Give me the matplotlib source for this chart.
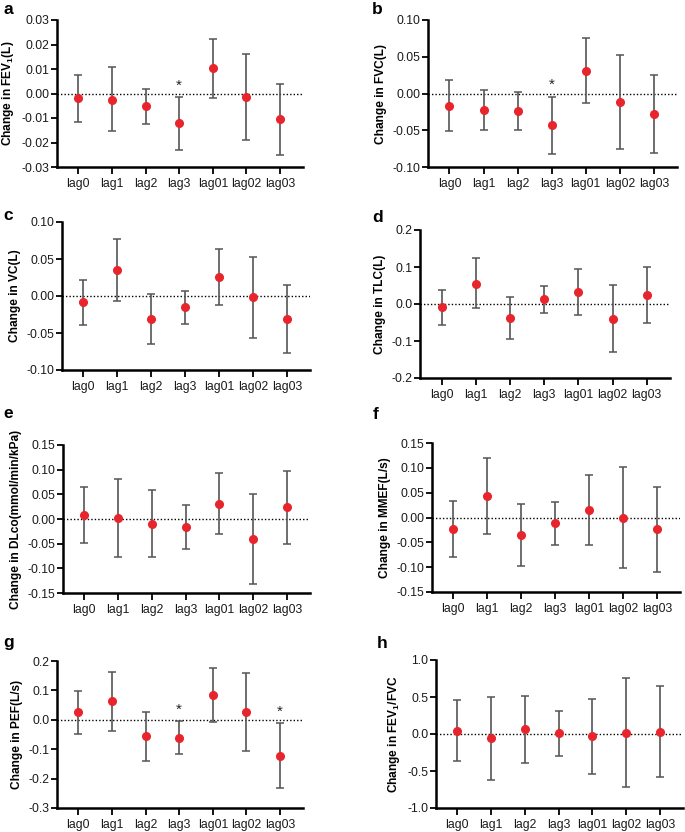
import matplotlib
matplotlib.use("Agg")
import matplotlib.pyplot as plt
import numpy as np

plt.rcParams['font.family'] = ['Liberation Sans', 'DejaVu Sans']
plt.rcParams['mathtext.fontset'] = 'custom'
plt.rcParams['mathtext.bf'] = 'Liberation Sans:bold'
plt.rcParams['mathtext.rm'] = 'Liberation Sans'
plt.rcParams['mathtext.default'] = 'bf'

categories = ["lag0", "lag1", "lag2", "lag3", "lag01", "lag02", "lag03"]

fev1_est = [-0.0020, -0.0025, -0.0053, -0.0121, 0.0104, -0.0015, -0.0106]
fev1_lo = [-0.0117, -0.0155, -0.0125, -0.0229, -0.0018, -0.0191, -0.0250]
fev1_hi = [0.0075, 0.0108, 0.0019, -0.0014, 0.0224, 0.0161, 0.0038]

fvc_est = [-0.0164, -0.0224, -0.0237, -0.0434, 0.0310, -0.0114, -0.0279]
fvc_lo = [-0.0516, -0.0498, -0.0498, -0.0822, -0.0128, -0.0753, -0.0813]
fvc_hi = [0.0187, 0.0050, 0.0027, -0.0041, 0.0749, 0.0525, 0.0247]

vc_est = [-0.0081, 0.0353, -0.0308, -0.0154, 0.0253, -0.0018, -0.0308]
vc_lo = [-0.0389, -0.0063, -0.0652, -0.0380, -0.0122, -0.0566, -0.0765]
vc_hi = [0.0222, 0.0765, 0.0027, 0.0072, 0.0633, 0.0529, 0.0145]

tlc_est = [-0.0081, 0.0550, -0.0370, 0.0126, 0.0316, -0.0397, 0.0244]
tlc_lo = [-0.0578, -0.0117, -0.0939, -0.0253, -0.0298, -0.1309, -0.0506]
tlc_hi = [0.0390, 0.1237, 0.0199, 0.0497, 0.0939, 0.0515, 0.0993]

dlco_est = [0.0088, 0.0014, -0.0095, -0.0163, 0.0312, -0.0407, 0.0237]
dlco_lo = [-0.0495, -0.0779, -0.0772, -0.0603, -0.0312, -0.1314, -0.0515]
dlco_hi = [0.0657, 0.0820, 0.0583, 0.0278, 0.0935, 0.0501, 0.0982]

mmef_est = [-0.0236, 0.0431, -0.0344, -0.0115, 0.0155, 0.0000, -0.0236]
mmef_lo = [-0.0795, -0.0337, -0.0977, -0.0546, -0.0553, -0.1024, -0.1092]
mmef_hi = [0.0337, 0.1200, 0.0276, 0.0310, 0.0863, 0.1018, 0.0607]

pef_est = [0.0249, 0.0645, -0.0566, -0.0611, 0.0837, 0.0270, -0.1220]
pef_lo = [-0.0486, -0.0373, -0.1390, -0.1165, -0.0079, -0.1063, -0.2320]
pef_hi = [0.0984, 0.1640, 0.0260, -0.0034, 0.1750, 0.1595, -0.0124]

ratio_est = [0.045, -0.059, 0.063, 0.014, -0.032, 0.018, 0.027]
ratio_lo = [-0.366, -0.615, -0.394, -0.294, -0.538, -0.719, -0.584]
ratio_hi = [0.457, 0.502, 0.520, 0.317, 0.475, 0.751, 0.647]

panels = [
    dict(letter="a", ylabel=r"Change in FEV$_1$(L)", est=fev1_est, lo=fev1_lo, hi=fev1_hi,
         ylim=(-0.03, 0.03), ticks=[-0.03, -0.02, -0.01, 0.0, 0.01, 0.02, 0.03], fmt="%.2f",
         stars=[3], rect=(57, 303, 20, 167), lpos=(3, 10)),
    dict(letter="b", ylabel="Change in FVC(L)", est=fvc_est, lo=fvc_lo, hi=fvc_hi,
         ylim=(-0.10, 0.10), ticks=[-0.10, -0.05, 0.0, 0.05, 0.10], fmt="%.2f",
         stars=[3], rect=(428, 677, 20, 167), lpos=(372, 10)),
    dict(letter="c", ylabel="Change in VC(L)", est=vc_est, lo=vc_lo, hi=vc_hi,
         ylim=(-0.10, 0.10), ticks=[-0.10, -0.05, 0.0, 0.05, 0.10], fmt="%.2f",
         stars=[], rect=(62, 310, 222, 370), lpos=(3, 215)),
    dict(letter="d", ylabel="Change in TLC(L)", est=tlc_est, lo=tlc_lo, hi=tlc_hi,
         ylim=(-0.2, 0.2), ticks=[-0.2, -0.1, 0.0, 0.1, 0.2], fmt="%.1f",
         stars=[], rect=(420, 670, 230, 378), lpos=(372, 218)),
    dict(letter="e", ylabel="Change in DLco(mmol/min/kPa)", est=dlco_est, lo=dlco_lo, hi=dlco_hi,
         ylim=(-0.15, 0.15), ticks=[-0.15, -0.10, -0.05, 0.0, 0.05, 0.10, 0.15], fmt="%.2f",
         stars=[], rect=(63, 310, 445, 593), lpos=(3, 413)),
    dict(letter="f", ylabel="Change in MMEF(L/s)", est=mmef_est, lo=mmef_lo, hi=mmef_hi,
         ylim=(-0.15, 0.15), ticks=[-0.15, -0.10, -0.05, 0.0, 0.05, 0.10, 0.15], fmt="%.2f",
         stars=[], rect=(432, 680, 443, 592), lpos=(373, 415)),
    dict(letter="g", ylabel="Change in PEF(L/s)", est=pef_est, lo=pef_lo, hi=pef_hi,
         ylim=(-0.3, 0.2), ticks=[-0.3, -0.2, -0.1, 0.0, 0.1, 0.2], fmt="%.1f",
         stars=[3, 6], rect=(57, 303, 661, 808), lpos=(3, 643)),
    dict(letter="h", ylabel=r"Change in FEV$_1$/FVC", est=ratio_est, lo=ratio_lo, hi=ratio_hi,
         ylim=(-1.0, 1.0), ticks=[-1.0, -0.5, 0.0, 0.5, 1.0], fmt="%.1f",
         stars=[], rect=(436, 683, 660, 808), lpos=(377, 643)),
]

W, H = 685, 832
fig = plt.figure(figsize=(W / 100, H / 100), dpi=100)

for p in panels:
    l, r, t, b = p["rect"]
    ax = fig.add_axes([l / W, 1 - b / H, (r - l) / W, (b - t) / H])
    x = np.arange(len(categories))
    est = np.array(p["est"])
    lo = np.array(p["lo"])
    hi = np.array(p["hi"])
    ax.axhline(0, color="black", linestyle=(0, (1, 1.5)), linewidth=1.0, zorder=1)
    ax.errorbar(x, est, yerr=[est - lo, hi - est], fmt="none", ecolor="#555555",
                elinewidth=1.2, capsize=3, capthick=1.1, zorder=2)
    ax.plot(x, est, "o", color="#e8242c", markersize=5.5, zorder=3)
    span = p["ylim"][1] - p["ylim"][0]
    for s in p["stars"]:
        ax.text(x[s], hi[s] + 0.03 * span, "*", ha="center", va="bottom", fontsize=11,
                color="#222222")
    ax.set_xlim(-0.63, 6.68)
    ax.set_ylim(*p["ylim"])
    ax.set_yticks(p["ticks"])
    ax.set_yticklabels([p["fmt"] % v for v in p["ticks"]])
    ax.set_xticks(x)
    ax.set_xticklabels(categories)
    ax.spines["top"].set_visible(False)
    ax.spines["right"].set_visible(False)
    ax.spines["left"].set_linewidth(1.8)
    ax.spines["bottom"].set_linewidth(1.8)
    ax.tick_params(axis="both", labelsize=8.8, width=1.3, length=4, color="black",
                   labelcolor="#1a1a1a")
    ax.tick_params(axis="x", length=5, pad=3)
    ax.tick_params(axis="y", pad=1.5)
    ax.set_ylabel(p["ylabel"], fontsize=8.6, fontweight="bold", labelpad=4)
    fig.text(p["lpos"][0] / W, 1 - p["lpos"][1] / H, p["letter"], fontsize=12.5,
             fontweight="bold", ha="left", va="center")

fig.savefig("out.png", dpi=100, facecolor="white")
